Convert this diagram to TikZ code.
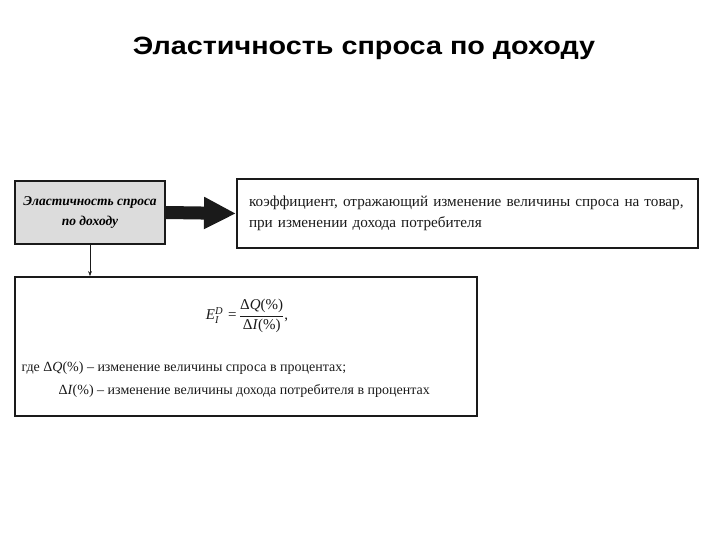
\documentclass[tikz,border=0pt]{standalone}
\usepackage{amsmath}
\usepackage{fontspec}
\setmainfont{Liberation Serif}
\newfontfamily\titlefont{Liberation Sans}
\usepackage{tikz}
\usetikzlibrary{arrows.meta,positioning,calc}
\definecolor{ink}{HTML}{1A1A1A}
\definecolor{boxgray}{HTML}{DCDCDC}
\newcommand{\pct}[1]{\text{Δ\textit{#1}(\%)}}

\begin{document}
\begin{tikzpicture}[x=1pt,y=-1pt,>=Stealth,
  frame/.style={draw=ink,line width=2pt,inner sep=0pt},
  body/.style={font=\fontsize{14}{21}\selectfont,text=ink}]
\useasboundingbox (0,0) rectangle (720,540);
% title
\node[font=\titlefont\bfseries\fontsize{25}{28}\selectfont,xscale=1.15] (title) at (364,48) {Эластичность спроса по доходу};
% blocks
\node[frame,fill=boxgray,minimum width=150pt,minimum height=63pt,align=center,
  font=\bfseries\itshape\fontsize{13.5}{20}\selectfont] (elast) at (90,212.5)
  {Эластичность спроса\\по доходу};
\node[frame,body,font=\fontsize{15.2}{21}\selectfont,minimum width=461pt,minimum height=69pt,text width=437pt,align=left] (meaning) at (467.5,213.5)
  {коэффициент, отражающий изменение величины спроса на товар,\\при изменении дохода потребителя};
\node[frame,minimum width=462pt,minimum height=139pt] (formula) at (246,346.5) {};
% contents of the lower block
\node[body,font=\fontsize{15}{21}\selectfont] (eq) at (247,316) {\textit{E}$_{\textit{I}}^{\textit{D}}$\,\,=\,$\dfrac{\pct{Q}}{\pct{I}}$,};
\node[body,anchor=west] (where1) at (18,368) {где Δ\textit{Q}(\%) -- изменение величины спроса в процентах;};
\node[body,anchor=west] (where2) at (55,391) {Δ\textit{I}(\%) -- изменение величины дохода потребителя в процентах};
% connectors
\draw[ink,line width=13pt,-{Triangle[length=32pt,width=30pt]}] (elast.east) -- (meaning.west);
\draw[ink,->] (elast.south) -- (elast.south |- formula.north);
\end{tikzpicture}
\end{document}
